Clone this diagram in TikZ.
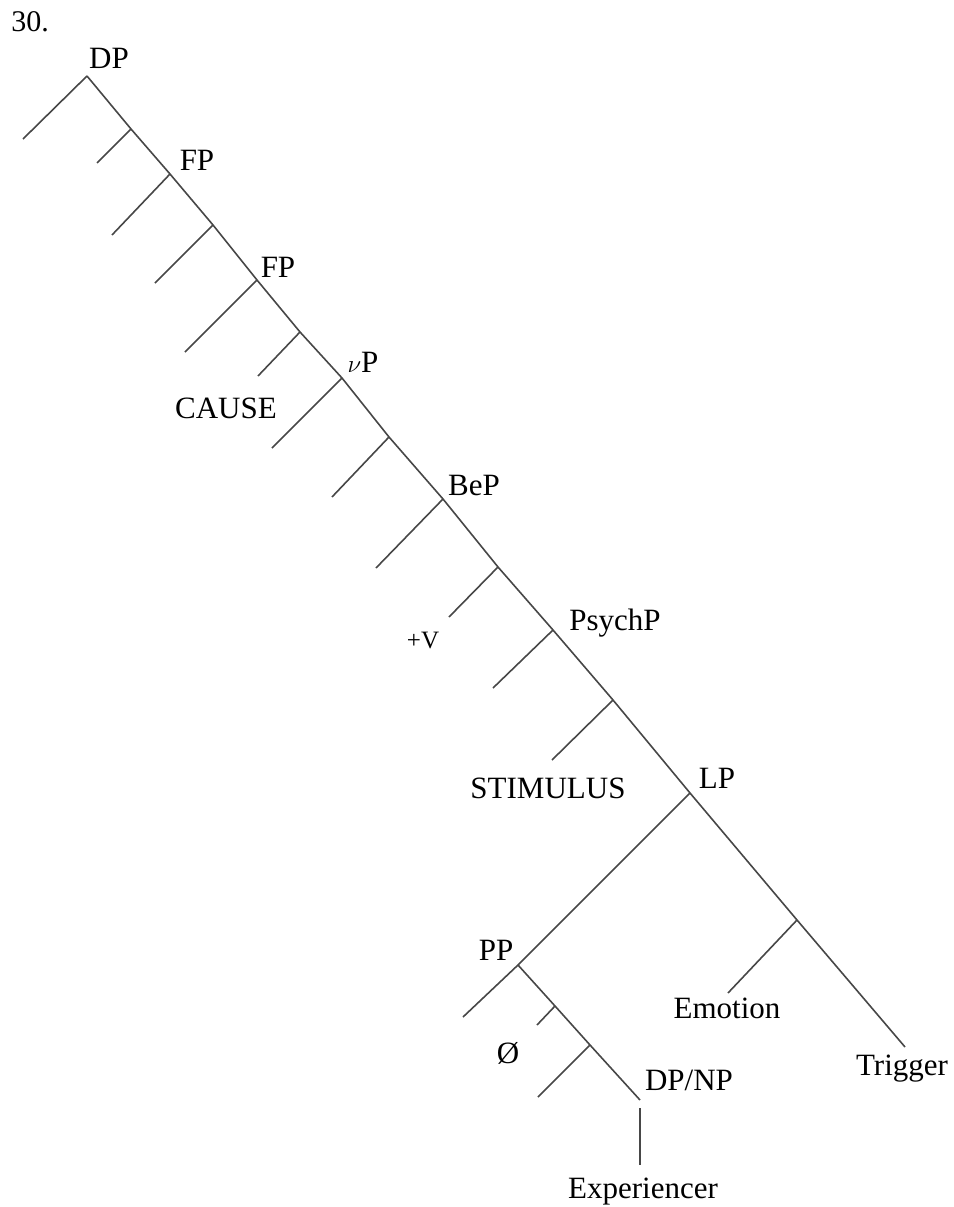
\documentclass[tikz,border=0pt]{standalone}
\usepackage{fontspec}
\setmainfont{Liberation Serif}
\usepackage{tikz}

\begin{document}
\begin{tikzpicture}[
  x=1pt, y=-1pt,
  br/.style={draw=black!72, line width=1.6pt},
  lab/.style={font=\fontsize{31}{36}\selectfont, inner sep=0pt, anchor=base},
  small/.style={font=\fontsize{25}{29}\selectfont, inner sep=0pt, anchor=base},
]
\useasboundingbox (0,0) rectangle (953,1207);
% spine junctions
\coordinate (j0) at (87,76);
\coordinate (j1) at (131,129);
\coordinate (j2) at (170,174);
\coordinate (j3) at (213,225);
\coordinate (j4) at (257,280);
\coordinate (j5) at (300,332);
\coordinate (j6) at (342,378);
\coordinate (j7) at (389,437);
\coordinate (j8) at (443,499);
\coordinate (j9) at (498,567);
\coordinate (j10) at (553,630);
\coordinate (j11) at (613,700);
\coordinate (j12) at (690,793);
\coordinate (j13) at (797,920);
\coordinate (trig) at (905,1047);
% left branch ends
\coordinate (l0) at (23,139);
\coordinate (l1) at (97,163);
\coordinate (l2) at (112,235);
\coordinate (l3) at (155,283);
\coordinate (l4) at (185,352);
\coordinate (l5) at (258,376);
\coordinate (l6) at (272,448);
\coordinate (l7) at (332,497);
\coordinate (l8) at (376,568);
\coordinate (l9) at (449,617);
\coordinate (l10) at (493,688);
\coordinate (l11) at (552,760);
\coordinate (emo) at (728,993);
% PP subtree
\coordinate (pp) at (518,965);
\coordinate (pp0) at (463,1017);
\coordinate (p1) at (555,1006);
\coordinate (p1l) at (537,1025);
\coordinate (p2) at (590,1045);
\coordinate (p2l) at (538,1097);
\coordinate (dpnp) at (640,1100);
\coordinate (ex1) at (640,1108);
\coordinate (ex2) at (640,1165);

% main spine
\draw[br] (j0)--(j1)--(j2)--(j3)--(j4)--(j5)--(j6)--(j7)--(j8)--(j9)--(j10)--(j11)--(j12)--(j13)--(trig);
\draw[br] (j0)--(l0); \draw[br] (j1)--(l1); \draw[br] (j2)--(l2); \draw[br] (j3)--(l3);
\draw[br] (j4)--(l4); \draw[br] (j5)--(l5); \draw[br] (j6)--(l6); \draw[br] (j7)--(l7);
\draw[br] (j8)--(l8); \draw[br] (j9)--(l9); \draw[br] (j10)--(l10); \draw[br] (j11)--(l11);
\draw[br] (j13)--(emo);
% LP left daughter
\draw[br] (j12)--(pp);
\draw[br] (pp)--(pp0);
\draw[br] (pp)--(p1)--(p2)--(dpnp);
\draw[br] (p1)--(p1l); \draw[br] (p2)--(p2l);
\draw[br] (ex1)--(ex2);

% labels
\node[lab, font=\fontsize{30}{35}\selectfont] (num) at (30,32) {30.};
\node[lab] (tDP) at (109,68) {DP};
\node[lab] (tFP1) at (197,170) {FP};
\node[lab] (tFP2) at (278,277) {FP};
\node[lab] (tvP) at (363,372) {$\nu$P};
\node[lab] (tCAUSE) at (226,418) {CAUSE};
\node[lab] (tBeP) at (474,495) {BeP};
\node[small] (tV) at (423,648) {+V};
\node[lab] (tPsychP) at (615,630) {PsychP};
\node[lab] (tSTIM) at (548,798) {STIMULUS};
\node[lab] (tLP) at (717,788) {LP};
\node[lab] (tPP) at (496,960) {PP};
\node[lab] (tnull) at (508,1063) {Ø};
\node[lab] (tDPNP) at (689,1090) {DP/NP};
\node[lab] (tExp) at (643,1198) {Experiencer};
\node[lab] (tEmo) at (727,1018) {Emotion};
\node[lab] (tTrig) at (902,1075) {Trigger};
\end{tikzpicture}
\end{document}
